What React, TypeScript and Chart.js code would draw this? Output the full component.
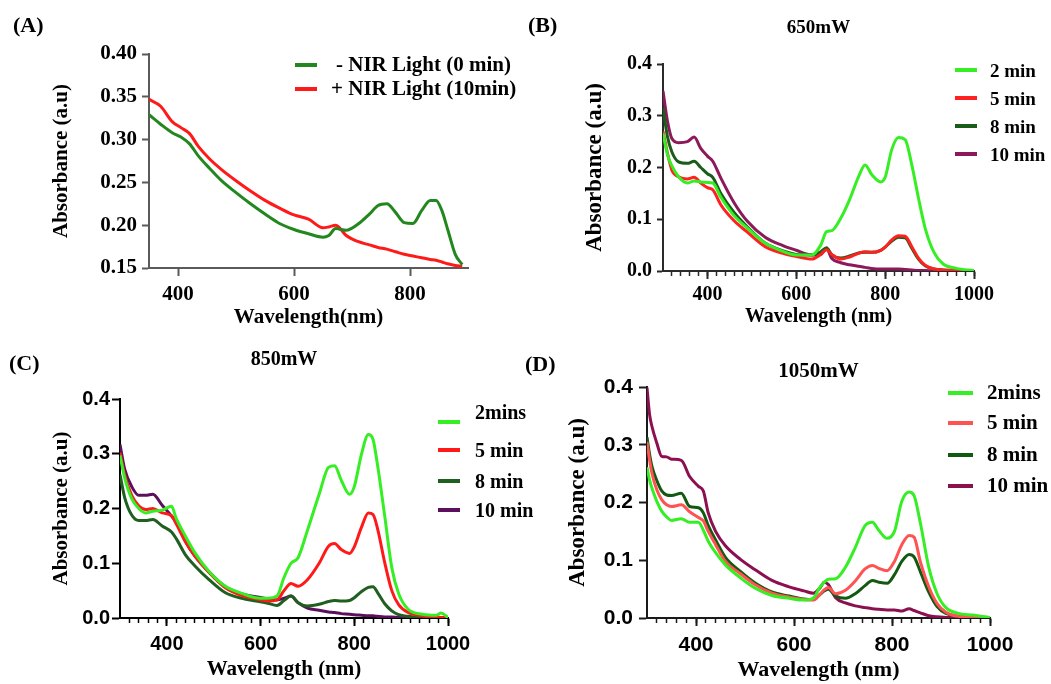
import React, { useEffect, useRef } from "react";
import { Chart, registerables } from "chart.js";

Chart.register(...registerables);

const SERIF = '"Liberation Serif", "Times New Roman", Times, serif';
const SANS = '"Liberation Sans", Arial, Helvetica, sans-serif';

// ---------------- Panel A ----------------
const wavelengthA = [350, 370, 390, 405, 420, 435, 455, 475, 500, 525, 550, 575, 600, 625, 650, 660, 672, 690, 710, 730, 745, 760, 775, 790, 805, 820, 835, 845, 855, 865, 878, 890];
const absA_noNIR = [0.329, 0.318, 0.308, 0.303, 0.295, 0.281, 0.266, 0.252, 0.238, 0.225, 0.213, 0.202, 0.195, 0.19, 0.186, 0.188, 0.196, 0.194, 0.201, 0.213, 0.223, 0.225, 0.215, 0.203, 0.202, 0.217, 0.229, 0.229, 0.217, 0.195, 0.166, 0.154];
const absA_NIR = [0.347, 0.339, 0.321, 0.314, 0.307, 0.292, 0.277, 0.265, 0.252, 0.24, 0.229, 0.22, 0.212, 0.207, 0.197, 0.198, 0.2, 0.188, 0.181, 0.177, 0.174, 0.172, 0.169, 0.166, 0.164, 0.162, 0.16, 0.159, 0.157, 0.155, 0.153, 0.152];
const seriesLabelsA = ["- NIR Light (0 min)", "+ NIR Light (10min)"];
const xTicksA = [400, 600, 800];
const yTicksA = [0.15, 0.2, 0.25, 0.3, 0.35, 0.4];

// ---------------- Panel B (650mW) ----------------
const wavelengthB = [300, 310, 320, 335, 355, 370, 385, 400, 412, 430, 460, 490, 530, 570, 600, 635, 655, 668, 680, 700, 720, 740, 755, 770, 790, 800, 815, 830, 845, 860, 875, 890, 910, 930, 960, 1000];
const absB_2 = [0.266, 0.225, 0.203, 0.182, 0.17, 0.174, 0.172, 0.171, 0.17, 0.143, 0.107, 0.083, 0.054, 0.038, 0.031, 0.031, 0.05, 0.076, 0.078, 0.102, 0.138, 0.182, 0.205, 0.186, 0.172, 0.181, 0.235, 0.258, 0.254, 0.205, 0.141, 0.083, 0.036, 0.014, 0.005, 0.001];
const absB_5 = [0.27, 0.228, 0.195, 0.182, 0.178, 0.181, 0.17, 0.161, 0.157, 0.128, 0.097, 0.075, 0.047, 0.034, 0.028, 0.023, 0.032, 0.041, 0.032, 0.023, 0.027, 0.034, 0.037, 0.036, 0.04, 0.046, 0.06, 0.068, 0.067, 0.047, 0.025, 0.011, 0.004, 0.002, 0.001, 0];
const absB_8 = [0.315, 0.26, 0.23, 0.211, 0.208, 0.212, 0.2, 0.188, 0.181, 0.15, 0.113, 0.085, 0.054, 0.039, 0.032, 0.031, 0.037, 0.045, 0.031, 0.025, 0.029, 0.035, 0.036, 0.036, 0.04, 0.046, 0.058, 0.065, 0.064, 0.044, 0.023, 0.01, 0.004, 0.002, 0.001, 0];
const absB_10 = [0.348, 0.29, 0.256, 0.248, 0.25, 0.259, 0.237, 0.222, 0.212, 0.18, 0.132, 0.096, 0.065, 0.049, 0.04, 0.031, 0.032, 0.043, 0.024, 0.016, 0.012, 0.009, 0.007, 0.005, 0.004, 0.004, 0.004, 0.004, 0.003, 0.002, 0.001, 0.001, 0, 0, 0, 0];
const seriesLabelsB = ["2 min", "5 min", "8 min", "10 min"];

// ---------------- Panel C (850mW) ----------------
const wavelengthC = [300, 310, 325, 340, 355, 370, 390, 410, 420, 440, 460, 490, 525, 560, 590, 615, 635, 650, 665, 680, 700, 725, 745, 758, 772, 790, 800, 815, 830, 840, 850, 865, 880, 895, 915, 945, 975, 985, 1000];
const absC_2 = [0.297, 0.256, 0.218, 0.2, 0.192, 0.195, 0.197, 0.204, 0.182, 0.149, 0.119, 0.085, 0.058, 0.045, 0.037, 0.036, 0.04, 0.074, 0.1, 0.11, 0.16, 0.226, 0.275, 0.278, 0.252, 0.226, 0.24, 0.298, 0.335, 0.326, 0.277, 0.186, 0.092, 0.044, 0.016, 0.007, 0.005, 0.009, 0.001];
const absC_5 = [0.302, 0.261, 0.224, 0.205, 0.198, 0.2, 0.192, 0.187, 0.172, 0.139, 0.113, 0.083, 0.055, 0.041, 0.035, 0.031, 0.033, 0.05, 0.063, 0.058, 0.07, 0.1, 0.131, 0.136, 0.125, 0.118, 0.13, 0.165, 0.192, 0.189, 0.162, 0.101, 0.05, 0.024, 0.01, 0.004, 0.002, 0.001, 0.001];
const absC_8 = [0.262, 0.22, 0.188, 0.178, 0.178, 0.18, 0.168, 0.157, 0.145, 0.115, 0.095, 0.07, 0.046, 0.036, 0.031, 0.027, 0.023, 0.032, 0.04, 0.028, 0.022, 0.025, 0.03, 0.032, 0.031, 0.032, 0.037, 0.048, 0.056, 0.057, 0.046, 0.026, 0.013, 0.006, 0.003, 0.001, 0.001, 0.001, 0];
const absC_10 = [0.317, 0.272, 0.24, 0.224, 0.224, 0.226, 0.206, 0.186, 0.175, 0.139, 0.113, 0.084, 0.057, 0.044, 0.039, 0.035, 0.033, 0.036, 0.04, 0.028, 0.018, 0.014, 0.011, 0.01, 0.008, 0.007, 0.006, 0.005, 0.004, 0.004, 0.003, 0.002, 0.002, 0.001, 0.001, 0, 0, 0, 0];
const seriesLabelsC = ["2mins", "5 min", "8 min", "10 min"];

// ---------------- Panel D (1050mW) ----------------
const wavelengthD = [300, 305, 310, 320, 330, 340, 350, 370, 387, 405, 415, 425, 440, 460, 490, 520, 555, 590, 620, 640, 652, 662, 670, 685, 705, 725, 745, 760, 773, 790, 805, 820, 835, 845, 858, 875, 892, 910, 935, 965, 1000];
const absD_2 = [0.261, 0.24, 0.225, 0.202, 0.185, 0.175, 0.169, 0.172, 0.166, 0.166, 0.152, 0.133, 0.113, 0.092, 0.07, 0.052, 0.039, 0.034, 0.031, 0.035, 0.052, 0.062, 0.067, 0.068, 0.088, 0.122, 0.16, 0.166, 0.152, 0.138, 0.15, 0.202, 0.218, 0.212, 0.164, 0.088, 0.042, 0.018, 0.008, 0.005, 0.001];
const absD_5 = [0.305, 0.275, 0.251, 0.222, 0.205, 0.196, 0.193, 0.196, 0.184, 0.174, 0.168, 0.15, 0.127, 0.098, 0.077, 0.058, 0.043, 0.036, 0.032, 0.031, 0.04, 0.049, 0.053, 0.042, 0.048, 0.064, 0.085, 0.091, 0.086, 0.082, 0.098, 0.127, 0.143, 0.14, 0.097, 0.054, 0.025, 0.01, 0.003, 0.002, 0.001];
const absD_8 = [0.313, 0.285, 0.263, 0.238, 0.22, 0.213, 0.212, 0.216, 0.193, 0.191, 0.182, 0.16, 0.135, 0.105, 0.081, 0.061, 0.045, 0.038, 0.033, 0.032, 0.04, 0.047, 0.05, 0.038, 0.034, 0.042, 0.056, 0.065, 0.062, 0.06, 0.075, 0.098, 0.11, 0.106, 0.08, 0.045, 0.02, 0.008, 0.003, 0.001, 0];
const absD_10 = [0.399, 0.354, 0.332, 0.303, 0.28, 0.279, 0.275, 0.273, 0.245, 0.228, 0.22, 0.182, 0.15, 0.125, 0.102, 0.084, 0.065, 0.054, 0.047, 0.043, 0.051, 0.062, 0.058, 0.035, 0.026, 0.021, 0.018, 0.016, 0.015, 0.014, 0.014, 0.012, 0.016, 0.013, 0.009, 0.004, 0.002, 0.001, 0, 0, 0];
const seriesLabelsD = ["2mins", "5 min", "8 min", "10 min"];

// shared ticks for B, C, D
const xTicksMain = [400, 600, 800, 1000];
const xTicksMinor = [320, 340, 360, 380, 400, 420, 440, 460, 480, 500, 520, 540, 560, 580, 600, 620, 640, 660, 680, 700, 720, 740, 760, 780, 800, 820, 840, 860, 880, 900, 920, 940, 960, 980, 1000];
const yTicksMain = [0, 0.1, 0.2, 0.3, 0.4];

type Series = { label: string; color: string; wl: number[]; values: number[] };
type Cfg = {
  box: [number, number, number, number];
  plot: [number, number, number, number];
  xMin: number; xMax: number; yMin: number; yMax: number;
  xTicks: number[]; yTicks: number[]; minor?: number[]; yDec: number;
  tickFamily: string; tickSize: number;
  xTitle: string; xTitleSize: number; xTitlePad: number;
  yTitle: string; yTitleSize: number; yTitlePad: number;
  title?: { text: string; size: number; padTop: number; padBottom: number };
  axisColor: string; axisWidth: number;
  xTickLen: number; xTickPad: number; yTickLen: number; yTickPad: number;
  series: Series[];
  legend: { x0: number; x1: number; tx: number; rows: number[]; textDy: number[]; size: number; textDx?: number[] };
  tag: { text: string; x: number; cy: number };
};

const panels: Cfg[] = [
  {
    box: [0, 0, 525, 340], plot: [149, 54, 468, 268],
    xMin: 350, xMax: 900, yMin: 0.15, yMax: 0.4,
    xTicks: xTicksA, yTicks: yTicksA, yDec: 2,
    tickFamily: SERIF, tickSize: 21,
    xTitle: "Wavelength(nm)", xTitleSize: 21, xTitlePad: 10,
    yTitle: "Absorbance (a.u)", yTitleSize: 21, yTitlePad: 49,
    axisColor: "#5a5a5a", axisWidth: 2,
    xTickLen: 8, xTickPad: 6, yTickLen: 7, yTickPad: 5,
    series: [
      { label: seriesLabelsA[0], color: "#23871f", wl: wavelengthA, values: absA_noNIR },
      { label: seriesLabelsA[1], color: "#ff1a1a", wl: wavelengthA, values: absA_NIR },
    ],
    legend: { x0: 295, x1: 317, tx: 331, rows: [65, 89], textDy: [0, 0], size: 21, textDx: [5, 0] },
    tag: { text: "(A)", x: 13, cy: 25 },
  },
  {
    box: [525, 0, 526, 340], plot: [138, 64, 449, 271],
    xMin: 300, xMax: 1000, yMin: 0, yMax: 0.4,
    xTicks: xTicksMain, yTicks: yTicksMain, minor: xTicksMinor, yDec: 1,
    tickFamily: SERIF, tickSize: 20,
    xTitle: "Wavelength (nm)", xTitleSize: 20, xTitlePad: 11,
    yTitle: "Absorbance (a.u)", yTitleSize: 23, yTitlePad: 56,
    title: { text: "650mW", size: 19, padTop: 17, padBottom: 24.2 },
    axisColor: "#2a2a2a", axisWidth: 2,
    xTickLen: 8, xTickPad: 4, yTickLen: 6, yTickPad: 5,
    series: [
      { label: seriesLabelsB[0], color: "#36ee24", wl: wavelengthB, values: absB_2 },
      { label: seriesLabelsB[1], color: "#ff2020", wl: wavelengthB, values: absB_5 },
      { label: seriesLabelsB[2], color: "#1a5c1a", wl: wavelengthB, values: absB_8 },
      { label: seriesLabelsB[3], color: "#8c1a5a", wl: wavelengthB, values: absB_10 },
    ],
    legend: { x0: 955, x1: 977, tx: 990, rows: [70, 98, 126, 154], textDy: [0, 0, 0, 0], size: 19 },
    tag: { text: "(B)", x: 528, cy: 25 },
  },
  {
    box: [0, 340, 525, 344], plot: [120, 59, 448, 278],
    xMin: 300, xMax: 1000, yMin: 0, yMax: 0.4,
    xTicks: xTicksMain, yTicks: yTicksMain, minor: xTicksMinor, yDec: 1,
    tickFamily: SANS, tickSize: 20,
    xTitle: "Wavelength (nm)", xTitleSize: 21, xTitlePad: 2,
    yTitle: "Absorbance (a.u)", yTitleSize: 21, yTitlePad: 49,
    title: { text: "850mW", size: 20, padTop: 8, padBottom: 27 },
    axisColor: "#000000", axisWidth: 2,
    xTickLen: 8, xTickPad: 6, yTickLen: 8, yTickPad: 2,
    series: [
      { label: seriesLabelsC[0], color: "#36ee24", wl: wavelengthC, values: absC_2 },
      { label: seriesLabelsC[1], color: "#ff1a1a", wl: wavelengthC, values: absC_5 },
      { label: seriesLabelsC[2], color: "#1f5f1f", wl: wavelengthC, values: absC_8 },
      { label: seriesLabelsC[3], color: "#5c0f5c", wl: wavelengthC, values: absC_10 },
    ],
    legend: { x0: 438, x1: 460, tx: 475, rows: [422, 450, 481, 510], textDy: [-10, 0, 0, 0], size: 20 },
    tag: { text: "(C)", x: 9, cy: 363 },
  },
  {
    box: [525, 340, 526, 344], plot: [122, 47, 465, 278],
    xMin: 300, xMax: 1000, yMin: 0, yMax: 0.4,
    xTicks: xTicksMain, yTicks: yTicksMain, minor: xTicksMinor, yDec: 1,
    tickFamily: SANS, tickSize: 21,
    xTitle: "Wavelength (nm)", xTitleSize: 22, xTitlePad: 0,
    yTitle: "Absorbance (a.u)", yTitleSize: 23, yTitlePad: 39,
    title: { text: "1050mW", size: 21, padTop: 19.4, padBottom: 2.4 },
    axisColor: "#1a1a1a", axisWidth: 2,
    xTickLen: 8, xTickPad: 7, yTickLen: 8, yTickPad: 6,
    series: [
      { label: seriesLabelsD[0], color: "#36ee24", wl: wavelengthD, values: absD_2 },
      { label: seriesLabelsD[1], color: "#ff5252", wl: wavelengthD, values: absD_5 },
      { label: seriesLabelsD[2], color: "#125a12", wl: wavelengthD, values: absD_8 },
      { label: seriesLabelsD[3], color: "#8c1050", wl: wavelengthD, values: absD_10 },
    ],
    legend: { x0: 948, x1: 973, tx: 987, rows: [393, 423, 455, 486], textDy: [0, 0, 0, 0], size: 21 },
    tag: { text: "(D)", x: 525, cy: 364 },
  },
];

function Panel({ cfg }: { cfg: Cfg }) {
  const ref = useRef<HTMLCanvasElement>(null);
  useEffect(() => {
    const canvas = ref.current;
    if (!canvas) return;
    const [, , W, H] = cfg.box;
    const [pl, pt, pr, pb] = cfg.plot;
    const tickFont = { family: cfg.tickFamily, size: cfg.tickSize, weight: "bold" as const };
    const scales: any = {
      x: {
        type: "linear",
        position: "bottom",
        min: cfg.xMin,
        max: cfg.xMax,
        afterBuildTicks: (s: any) => { s.ticks = cfg.xTicks.map((v) => ({ value: v })); },
        afterFit: (s: any) => { s.height = H - pb; },
        border: { display: true, color: cfg.axisColor, width: cfg.axisWidth },
        grid: { display: true, drawOnChartArea: false, drawTicks: true, tickLength: cfg.xTickLen, color: cfg.axisColor, tickWidth: cfg.axisWidth },
        ticks: { padding: cfg.xTickPad, color: "#000", font: tickFont, maxRotation: 0, autoSkip: false, callback: (v: any) => String(v) },
        title: { display: true, text: cfg.xTitle, color: "#000", font: { family: SERIF, size: cfg.xTitleSize, weight: "bold" }, padding: { top: 0, bottom: cfg.xTitlePad } },
      },
      y: {
        type: "linear",
        position: "left",
        min: cfg.yMin,
        max: cfg.yMax,
        afterBuildTicks: (s: any) => { s.ticks = cfg.yTicks.map((v) => ({ value: v })); },
        afterFit: (s: any) => { s.width = pl; },
        border: { display: true, color: cfg.axisColor, width: cfg.axisWidth },
        grid: { display: true, drawOnChartArea: false, drawTicks: true, tickLength: cfg.yTickLen, color: cfg.axisColor, tickWidth: cfg.axisWidth },
        ticks: { padding: cfg.yTickPad, color: "#000", font: tickFont, autoSkip: false, callback: (v: any) => Number(v).toFixed(cfg.yDec) },
        title: { display: true, text: cfg.yTitle, color: "#000", font: { family: SERIF, size: cfg.yTitleSize, weight: "bold" }, padding: { top: cfg.yTitlePad, bottom: 0 } },
      },
    };
    if (cfg.minor) {
      const minor = cfg.minor;
      scales.xMinor = {
        type: "linear",
        axis: "x",
        position: { y: cfg.yMin },
        min: cfg.xMin,
        max: cfg.xMax,
        afterBuildTicks: (s: any) => { s.ticks = minor.map((v) => ({ value: v })); },
        border: { display: false },
        grid: { display: true, drawOnChartArea: false, drawTicks: true, tickLength: 5, color: cfg.axisColor, tickWidth: 1.5 },
        ticks: { display: false },
        title: { display: false },
      };
    }
    const chart = new Chart(canvas, {
      type: "line",
      data: {
        datasets: cfg.series.map((s) => ({
          label: s.label,
          data: s.wl.map((x, i) => ({ x, y: s.values[i] })),
          borderColor: s.color,
          backgroundColor: s.color,
          borderWidth: 3,
          pointRadius: 0,
          fill: false,
          cubicInterpolationMode: "monotone" as const,
          xAxisID: "x",
          yAxisID: "y",
        })),
      },
      options: {
        responsive: false,
        animation: false,
        devicePixelRatio: 1,
        layout: { padding: { left: 0, top: cfg.title ? 0 : pt, right: W - pr, bottom: 0 } },
        scales,
        plugins: {
          legend: { display: false },
          tooltip: { enabled: false },
          title: cfg.title
            ? {
                display: true,
                text: cfg.title.text,
                color: "#000",
                fullSize: false,
                font: { family: SERIF, size: cfg.title.size, weight: "bold" },
                padding: { top: cfg.title.padTop, bottom: cfg.title.padBottom },
              }
            : { display: false },
        },
      } as any,
    });
    return () => chart.destroy();
  }, [cfg]);

  const [bl, bt, bw, bh] = cfg.box;
  const lg = cfg.legend;
  const textStyle = (size: number): React.CSSProperties => ({
    position: "absolute",
    fontFamily: SERIF,
    fontWeight: "bold",
    fontSize: size,
    lineHeight: `${Math.round(size * 1.2)}px`,
    color: "#000",
    whiteSpace: "pre",
  });
  return (
    <>
      <canvas
        ref={ref}
        width={bw}
        height={bh}
        style={{ position: "absolute", left: bl, top: bt, width: bw, height: bh }}
      />
      <div style={{ ...textStyle(22), left: cfg.tag.x, top: cfg.tag.cy - 13 }}>{cfg.tag.text}</div>
      {cfg.series.map((s, i) => (
        <React.Fragment key={s.label}>
          <div
            style={{ position: "absolute", left: lg.x0, top: lg.rows[i] - 2, width: lg.x1 - lg.x0, height: 4, background: s.color }}
          />
          <div
            style={{
              ...textStyle(lg.size),
              left: lg.tx + (lg.textDx ? lg.textDx[i] : 0),
              top: lg.rows[i] + lg.textDy[i] - Math.round(lg.size * 0.6),
            }}
          >
            {s.label}
          </div>
        </React.Fragment>
      ))}
    </>
  );
}

export default function App() {
  return (
    <div style={{ position: "absolute", left: 0, top: 0, width: 1051, height: 684, background: "#fff", overflow: "hidden" }}>
      {panels.map((p, i) => (
        <Panel key={i} cfg={p} />
      ))}
    </div>
  );
}
